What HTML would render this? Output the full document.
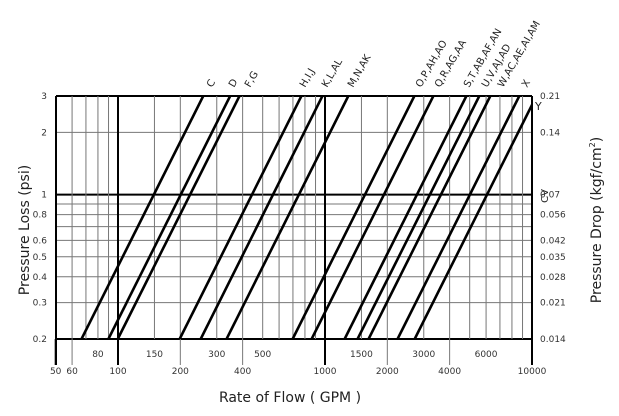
<!DOCTYPE html>
<html><head><meta charset="utf-8"><style>
body{margin:0;background:#fff}
svg{display:block;font-family:"DejaVu Sans","Liberation Sans",sans-serif}
</style></head><body>
<svg id="chart" width="619" height="416" viewBox="0 0 619 416" xmlns="http://www.w3.org/2000/svg">
<g id="grid"></g>
<g id="lines"></g>
<g id="axes"></g>
<g id="labels"></g>
<text x="290" y="402" font-size="14" text-anchor="middle" fill="#222">Rate of Flow ( GPM )</text>
<text transform="translate(29,230) rotate(-90)" font-size="14" text-anchor="middle" fill="#222">Pressure Loss (psi)</text>
<text transform="translate(601,220) rotate(-90)" font-size="14" text-anchor="middle" fill="#222">Pressure Drop (kgf/cm<tspan font-size="8" dy="-6">2</tspan><tspan dy="6">)</tspan></text>
<text transform="translate(548,196) rotate(-90)" font-size="10" text-anchor="middle" fill="#222">CV</text>
<text x="535" y="110" font-size="11" fill="#222">Y</text>
</svg>
<script>
const seriesNames=["C","D","F,G","H,I,J","K,L,AL","M,N,AK","O,P,AH,AO","Q,R,AG,AA","S,T,AB,AF,AN","U,V,AJ,AD","W,AC,AE,AI,AM","X","Y"];
const flowAt1psi=[149,201,223,444,561,748,1560,1927,2782,3212,3631,5012,6065];
const labelX=[212,234,250,305,327,353,421,440,469,487,503,527,null];
const yTicks=[0.2,0.3,0.4,0.5,0.6,0.8,1,2,3];
const yGrid=[0.2,0.3,0.4,0.5,0.6,0.7,0.8,0.9,1,2,3];
const y2Labels=["0.014","0.021","0.028","0.035","0.042","0.056","0.07","0.14","0.21"];
const y2Vals=[0.2,0.3,0.4,0.5,0.6,0.8,1,2,3];
const xGrid=[60,70,80,90,100,150,200,300,400,500,600,700,800,900,1000,1500,2000,3000,4000,5000,6000,7000,8000,9000,10000];
const xLowLabels=[50,60,100,200,400,1000,2000,4000,10000];
const xHighLabels=[80,150,300,500,1500,3000,6000];
const X0=56,X1=532,Y0=339,Y1=96;
const xs=v=>118+207*Math.log10(v/100);
const ys=v=>339-206.6*Math.log10(v/0.2);
const NS="http://www.w3.org/2000/svg";
function mk(t,a,p){const e=document.createElementNS(NS,t);for(const k in a)e.setAttribute(k,a[k]);p.appendChild(e);return e;}
const grid=document.getElementById('grid'),axes=document.getElementById('axes'),lines=document.getElementById('lines'),labels=document.getElementById('labels');
yGrid.forEach(v=>{const th=(v===1||v===0.2||v===3);
const l=mk('line',{x1:X0,x2:X1,y1:ys(v),y2:ys(v),stroke:th?'#000':'#777','stroke-width':th?2:1},grid);

});
xGrid.forEach(v=>{const th=(v===100||v===1000||v===10000);
const l=mk('line',{x1:xs(v),x2:xs(v),y1:Y1,y2:Y0,stroke:th?'#000':'#777','stroke-width':th?2:1},grid);

});
const lf=mk('line',{x1:X0,x2:X0,y1:Y1,y2:365,stroke:'#000','stroke-width':2},axes);


const rt=mk('line',{x1:X1,x2:X1,y1:Y1,y2:365,stroke:'#000','stroke-width':2},axes);


xLowLabels.forEach(v=>{const th=(v===100||v===1000||v===10000||v===50);
const t=mk('line',{x1:xs(v),x2:xs(v),y1:Y0,y2:365,stroke:th?'#000':'#777','stroke-width':th?2:1},axes);


const tx=mk('text',{x:xs(v),y:374,'font-size':9,'text-anchor':'middle',fill:'#333'},axes);tx.textContent=v;

});
xHighLabels.forEach(v=>{const tx=mk('text',{x:xs(v),y:357,'font-size':9,'text-anchor':'middle',fill:'#333'},axes);tx.textContent=v;

});
yTicks.forEach(v=>{const tx=mk('text',{x:47,y:ys(v)+3,'font-size':9,'text-anchor':'end',fill:'#333'},axes);tx.textContent=v;

});
y2Vals.forEach((v,i)=>{const tx=mk('text',{x:540,y:ys(v)+3,'font-size':9,fill:'#333'},axes);tx.textContent=y2Labels[i];

});
mk('clipPath',{id:'pc'},lines).appendChild(Object.assign(document.createElementNS(NS,'rect'),{}));
lines.querySelector('clipPath rect').setAttribute('x',X0);lines.querySelector('clipPath rect').setAttribute('y',Y1);
lines.querySelector('clipPath rect').setAttribute('width',X1-X0);lines.querySelector('clipPath rect').setAttribute('height',Y0-Y1);
flowAt1psi.forEach((q,i)=>{
const qa=q*Math.sqrt(0.2),qb=q*Math.sqrt(3);
const l=mk('line',{x1:xs(qa),y1:ys(0.2),x2:xs(qb),y2:ys(3),stroke:'#000','stroke-width':2.6,'clip-path':'url(#pc)'},lines);


if(labelX[i]!==null){const t=mk('text',{transform:`translate(${labelX[i]},88) rotate(-60)`,'font-size':10,fill:'#222'},labels);t.textContent=seriesNames[i];

}
});
</script>
</body></html>
